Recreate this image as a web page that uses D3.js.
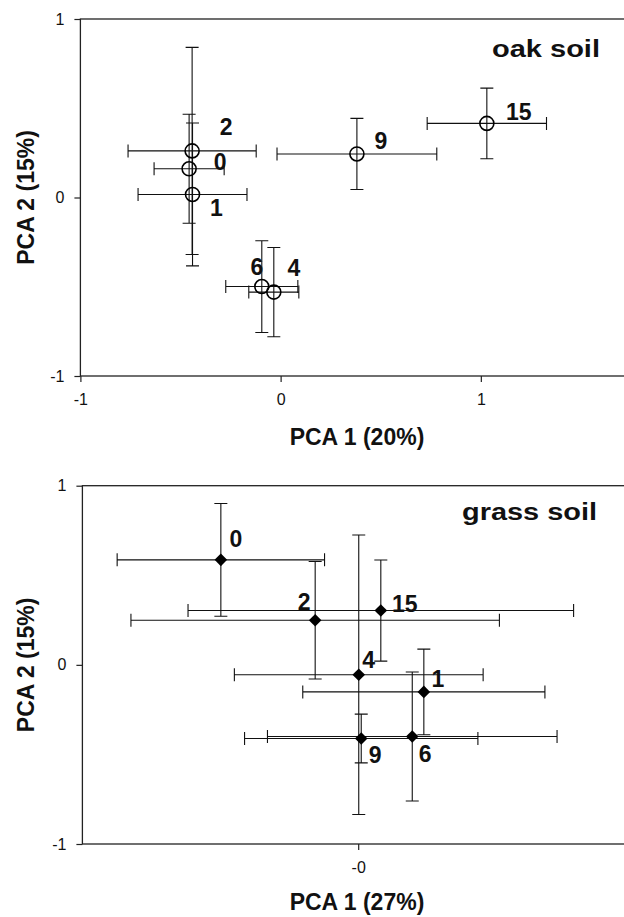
<!DOCTYPE html>
<html>
<head>
<meta charset="utf-8">
<script src="https://cdn.jsdelivr.net/npm/d3@7"></script>
<style>
  body { margin: 0; background: #fff; }
  svg { display: block; font-family: "Liberation Sans", Arial, Helvetica, sans-serif; }
  .tick line { stroke: #222; stroke-width: 1.2; }
  .lbl { font-size: 23px; font-weight: bold; fill: #111; }
</style>
</head>
<body>
<svg id="chart" width="624" height="917"></svg>
<script>
// sampling days, oak soil PCA scores with std errors
var oakLabels = ["0", "1", "2", "4", "6", "9", "15"];
var oakX    = [-0.457, -0.440, -0.442, -0.034, -0.094, 0.381, 1.030];
var oakY    = [ 0.161,  0.017,  0.261, -0.530, -0.499, 0.244, 0.415];
var oakXErr = [ 0.175,  0.272,  0.320,  0.125,  0.180, 0.399, 0.298];
var oakYErr = [ 0.305,  0.400,  0.580,  0.250,  0.257, 0.199, 0.198];

// grass soil
var grassLabels = ["0", "1", "2", "4", "6", "9", "15"];
var grassX    = [-0.498, 0.238, -0.156, 0.002, 0.196, 0.011, 0.082];
var grassY    = [ 0.586, -0.151, 0.249, -0.055, -0.400, -0.411, 0.303];
var grassXErr = [ 0.376, 0.439, 0.668, 0.451, 0.525, 0.423, 0.699];
var grassYErr = [ 0.315, 0.239, 0.328, 0.780, 0.360, 0.136, 0.282];

var oakXTicks = [-1, 0, 1];
var grassXTicks = [0];
var grassXTickText = ["-0"];
var yTicks = [-1, 0, 1];

// where the day labels sit relative to their point (px)
var oakLabelOffset = {"0": [31, -7], "1": [24, 13], "2": [34, -24], "4": [20, -24],
                      "6": [-5, -20], "9": [24, -13], "15": [32, -12]};
var grassLabelOffset = {"0": [15, -21], "1": [14, -13], "2": [-11, -19], "4": [10, -15],
                        "6": [13, 17], "9": [14, 16], "15": [24, -7]};

var svg = d3.select("#chart");

function plain(d) { return String(d); }

function drawPanel(opt) {
  var data = opt.labels.map(function (l, i) {
    return {label: l, x: opt.x[i], y: opt.y[i], ex: opt.xErr[i], ey: opt.yErr[i]};
  });

  var xScale = d3.scaleLinear().domain(opt.xDomain).range([opt.left, opt.right]),
      yScale = d3.scaleLinear().domain([-1, 1]).range([opt.bottom, opt.top]);

  var g = svg.append("g");

  // frame (right edge runs off the page like the original)
  g.append("rect")
    .attr("x", opt.left).attr("y", opt.top)
    .attr("width", opt.right - opt.left).attr("height", opt.bottom - opt.top)
    .attr("fill", "none").attr("stroke", "#222").attr("stroke-width", 1.3);

  var xAxis = d3.axisBottom(xScale).tickValues(opt.xTicks).tickSize(6).tickSizeOuter(0).tickPadding(12)
      .tickFormat(opt.xFormat);
  var yAxis = d3.axisLeft(yScale).tickValues(yTicks).tickSize(6).tickSizeOuter(0).tickPadding(10)
      .tickFormat(plain);

  function tidy(s) {
    s.select(".domain").remove();
    s.attr("font-family", null).attr("font-size", null);
    s.selectAll(".tick text").attr("font-size", 16).attr("fill", "#111");
  }

  g.append("g").attr("transform", "translate(0," + opt.bottom + ")").call(xAxis).call(tidy);
  g.append("g").attr("transform", "translate(" + opt.left + ",0)").call(yAxis).call(tidy);

  var cap = 6.5;
  var bars = g.append("g").attr("stroke", "#111").attr("stroke-width", 1.1).attr("fill", "none");
  data.forEach(function (d) {
    var cx = xScale(d.x), cy = yScale(d.y),
        x0 = xScale(d.x - d.ex), x1 = xScale(d.x + d.ex),
        y0 = yScale(d.y - d.ey), y1 = yScale(d.y + d.ey);
    bars.append("path").attr("d",
      "M" + x0 + "," + cy + "H" + x1 +
      "M" + x0 + "," + (cy - cap) + "V" + (cy + cap) +
      "M" + x1 + "," + (cy - cap) + "V" + (cy + cap) +
      "M" + cx + "," + y0 + "V" + y1 +
      "M" + (cx - cap) + "," + y0 + "H" + (cx + cap) +
      "M" + (cx - cap) + "," + y1 + "H" + (cx + cap));
  });

  if (opt.marker === "circle") {
    g.selectAll("circle.pt").data(data).enter().append("circle")
      .attr("class", "pt")
      .attr("cx", function (d) { return xScale(d.x); })
      .attr("cy", function (d) { return yScale(d.y); })
      .attr("r", 7)
      .attr("fill", "none").attr("stroke", "#000").attr("stroke-width", 1.6);
  } else {
    var s = 6.3;
    g.selectAll("path.pt").data(data).enter().append("path")
      .attr("class", "pt")
      .attr("d", "M0," + (-s) + "L" + s + ",0L0," + s + "L" + (-s) + ",0Z")
      .attr("transform", function (d) { return "translate(" + xScale(d.x) + "," + yScale(d.y) + ")"; })
      .attr("fill", "#000");
  }

  g.selectAll("text.day").data(data).enter().append("text")
    .attr("class", "lbl day")
    .attr("text-anchor", "middle")
    .attr("dy", "0.36em")
    .attr("x", function (d) { return xScale(d.x) + opt.offsets[d.label][0]; })
    .attr("y", function (d) { return yScale(d.y) + opt.offsets[d.label][1]; })
    .text(function (d) { return d.label; });

  g.append("text").attr("class", "lbl")
    .attr("text-anchor", "end")
    .attr("x", opt.titleX).attr("y", opt.titleY)
    .attr("textLength", opt.titleLen).attr("lengthAdjust", "spacingAndGlyphs")
    .text(opt.title);

  g.append("text").attr("class", "lbl")
    .attr("text-anchor", "middle")
    .attr("x", 357).attr("y", opt.xTitleY)
    .text(opt.xTitle);

  g.append("text").attr("class", "lbl")
    .attr("text-anchor", "middle")
    .attr("transform", "translate(34," + yScale(0) + ") rotate(-90)")
    .text("PCA 2 (15%)");
}

drawPanel({
  labels: oakLabels, x: oakX, y: oakY, xErr: oakXErr, yErr: oakYErr,
  xDomain: [-1, 1.765], left: 80.4, right: 634, top: 19, bottom: 376,
  xTicks: oakXTicks, xFormat: plain,
  marker: "circle", offsets: oakLabelOffset,
  title: "oak soil", titleX: 600, titleY: 57, titleLen: 108,
  xTitle: "PCA 1 (20%)", xTitleY: 445
});

drawPanel({
  labels: grassLabels, x: grassX, y: grassY, xErr: grassXErr, yErr: grassYErr,
  xDomain: [-1, 1], left: 82.4, right: 634, top: 485.7, bottom: 844,
  xTicks: grassXTicks, xFormat: function (d, i) { return grassXTickText[i]; },
  marker: "diamond", offsets: grassLabelOffset,
  title: "grass soil", titleX: 597, titleY: 520, titleLen: 135,
  xTitle: "PCA 1 (27%)", xTitleY: 910
});
</script>
</body>
</html>
